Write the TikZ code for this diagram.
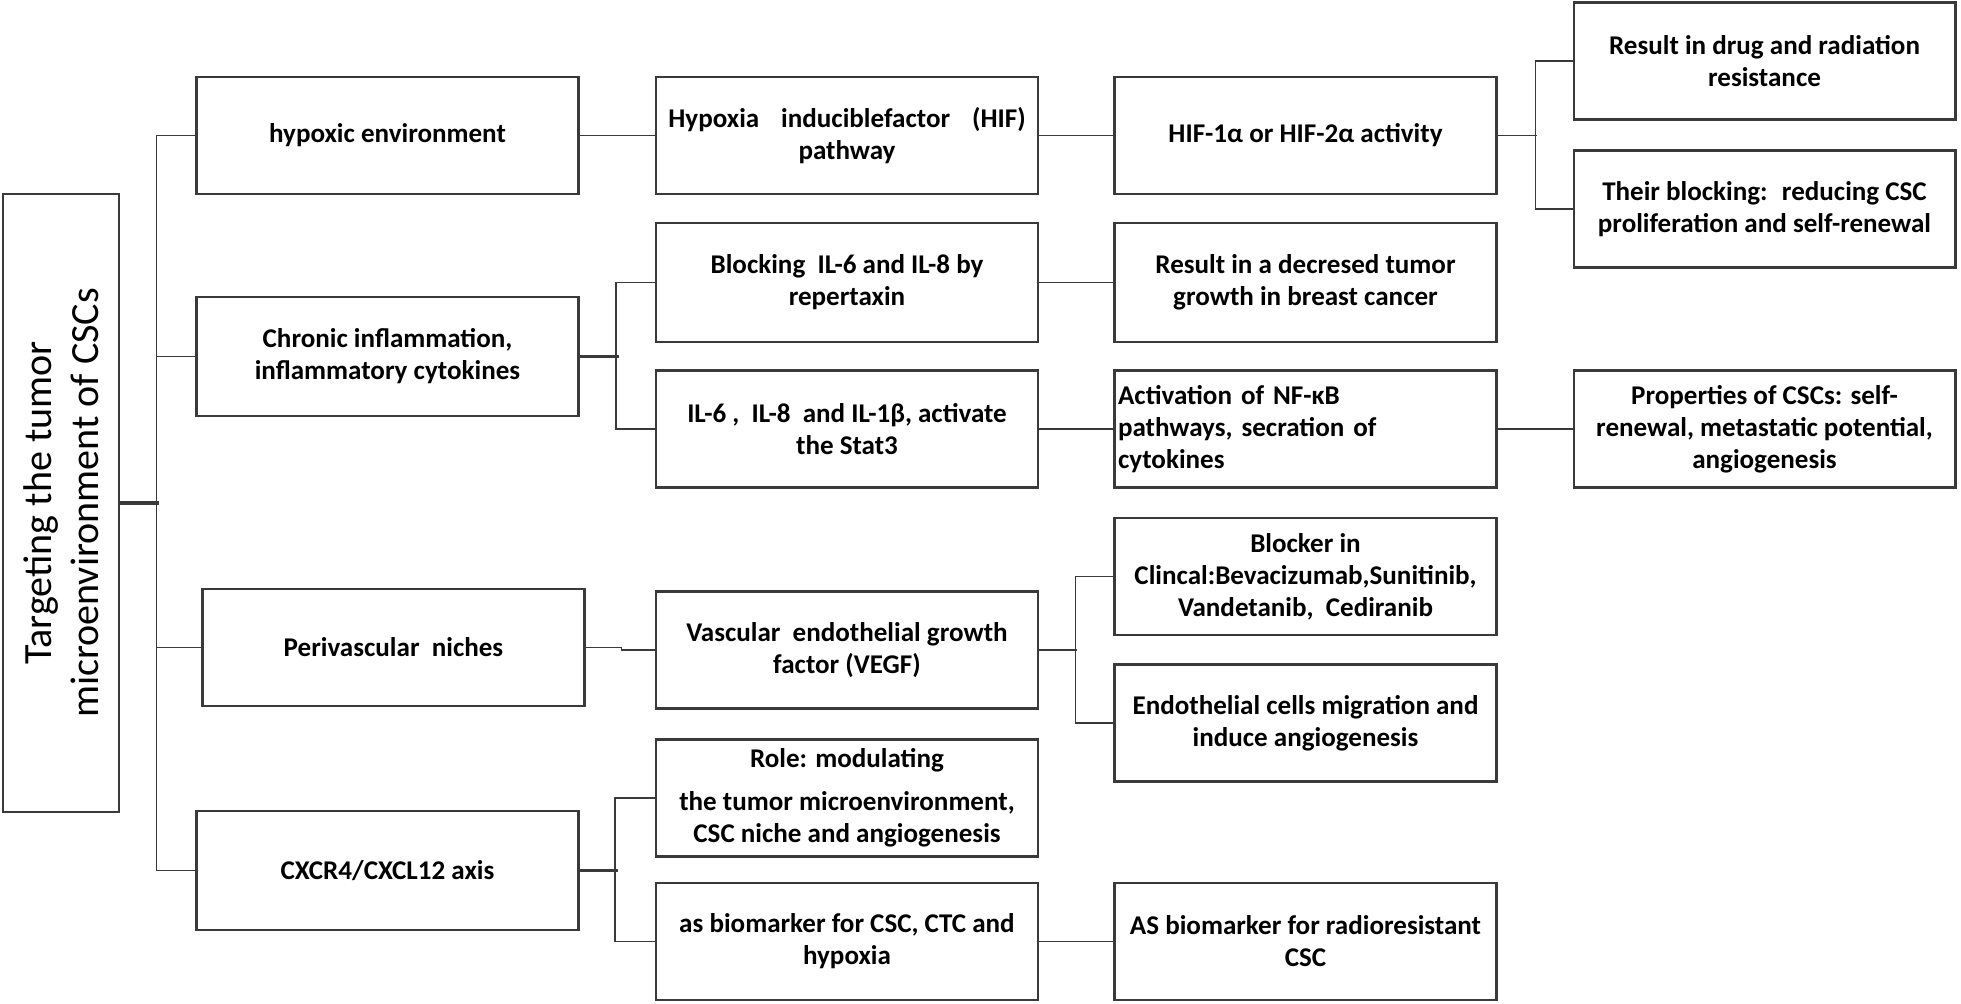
\documentclass[tikz,border=0pt]{standalone}
\usepackage{fontspec}
\setmainfont{Carlito}
\definecolor{linegray}{RGB}{58,58,58}
\begin{document}
\begin{tikzpicture}[x=0.02cm,y=-0.02cm,
        box/.style={draw=linegray, line width=1.2pt, minimum width=7.64cm, minimum height=2.34cm,
            align=center, inner sep=1pt, font=\bfseries\fontsize{15.4}{18.2}\selectfont},
        link/.style={draw=linegray, line width=1.1pt},
        heavy/.style={draw=linegray, line width=1.9pt}]
        \useasboundingbox (0,0) rectangle (1961,1004);

        % root, turned on its side
        \node[box, rotate=90, minimum width=12.36cm, minimum height=2.32cm,
            font=\fontsize{22.8}{26.8}\selectfont] (root) at (61,503) {Targeting the tumor\\microenvironment of CSCs};

        % first column
        \node[box] (hypoxic) at (387.5,135.5) {hypoxic environment};
        \node[box, minimum height=2.38cm] (chronic) at (387.5,356.5) {Chronic inflammation,\\inflammatory cytokines};
        \node[box] (periv) at (393.5,647.5) {Perivascular~ niches};
        \node[box, minimum height=2.38cm] (cxcr) at (387.5,870.5) {CXCR4/CXCL12 axis};

        % second column
        \node[box] (hif) at (847,135.5) {Hypoxia\hspace{0.44cm}induciblefactor\hspace{0.44cm}(HIF)\\pathway};
        \node[box, minimum height=2.38cm] (blocking) at (847,282.5) {Blocking~ IL-6 and IL-8 by\\repertaxin};
        \node[box] (ilsix) at (847,429) {IL-6 ,~ IL-8~ and IL-1β, activate\\the Stat3};
        \node[box] (vegf) at (847,650) {Vascular~ endothelial growth\\factor (VEGF)};
        \node[box] (role) at (847,798) {Role: modulating\\[6pt]the tumor microenvironment,\\CSC niche and angiogenesis};
        \node[box] (asbio) at (847,941.5) {as biomarker for CSC, CTC and\\hypoxia};

        % third column
        \node[box] (hifact) at (1305.5,135.5) {HIF-1α or HIF-2α activity};
        \node[box, minimum height=2.38cm] (decresed) at (1305.5,282.5) {Result in a decresed tumor\\growth in breast cancer};
        \node[box, align=left, text width=7.5cm, inner xsep=0.07cm] (nfkb) at (1305.5,429) {Activation\ of NF-κB\\pathways, secration of\\cytokines};
        \node[box] (blocker) at (1305.5,576.5) {Blocker in\\Clincal:Bevacizumab,Sunitinib,\\Vandetanib,~ Cediranib};
        \node[box] (endo) at (1305.5,723) {Endothelial cells migration and\\induce angiogenesis};
        \node[box] (asradio) at (1305.5,941.5) {AS biomarker for radioresistant\\CSC};

        % fourth column
        \node[box] (drug) at (1764.5,61) {Result in drug and radiation\\resistance};
        \node[box] (block) at (1764.5,209) {Their blocking:~ reducing CSC\\proliferation and self-renewal};
        \node[box] (prop) at (1764.5,429) {Properties of CSCs: self-\\renewal, metastatic potential,\\angiogenesis};

        % trunk
        \draw[heavy] (root.south) -- ++(39,0);
        \draw[link] (hypoxic.west) -- ++(-39,0) |- (cxcr.west);
        \draw[link] (chronic.west) -- ++(-39,0);
        \draw[link] (periv.west) -- ++(-45,0);

        % branches
        \draw[link] (hypoxic) -- (hif);
        \draw[link] (hif) -- (hifact);
        \draw[link] (hifact.east) -- ++(39,0);
        \draw[link] (drug.west) -- ++(-37,0) |- (block.west);

        \draw[heavy] (chronic.east) -- ++(39,0);
        \draw[link] (blocking.west) -- ++(-39,0) |- (ilsix.west);
        \draw[link] (blocking) -- (decresed);
        \draw[link] (ilsix) -- (nfkb);
        \draw[link] (nfkb) -- (prop);

        \draw[link] (periv.east) -- ++(36,0) |- (vegf.west);
        \draw[link] (vegf.east) -- ++(38,0);
        \draw[link] (blocker.west) -- ++(-38,0) |- (endo.west);

        \draw[heavy] (cxcr.east) -- ++(38,0);
        \draw[link] (role.west) -- ++(-40,0) |- (asbio.west);
        \draw[link] (asbio) -- (asradio);
    \end{tikzpicture}
\end{document}
